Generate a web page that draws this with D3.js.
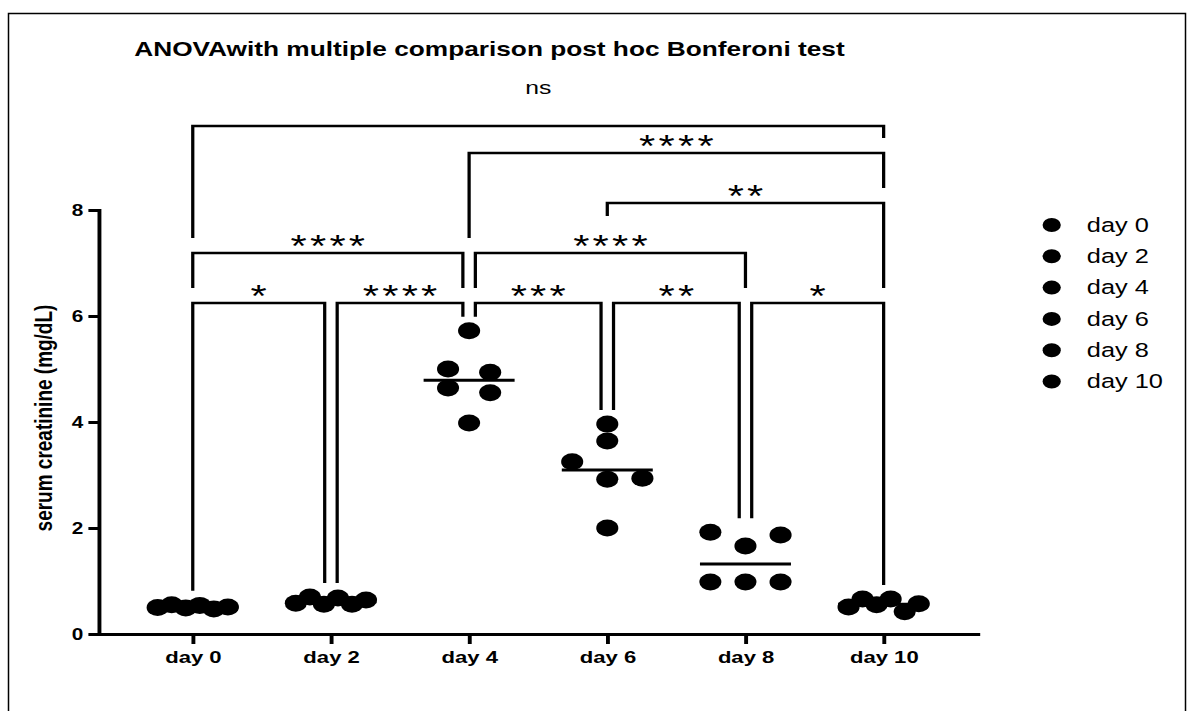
<!DOCTYPE html>
<html>
<head>
<meta charset="utf-8">
<script src="https://cdn.jsdelivr.net/npm/d3@7"></script>
<style>
  body { margin: 0; background: #fff; }
  svg { display: block; font-family: "Liberation Sans", Arial, sans-serif; }
</style>
</head>
<body>
<svg></svg>
<script>
// groups on the x axis
var days = ["day 0", "day 2", "day 4", "day 6", "day 8", "day 10"];

// serum creatinine (mg/dL), one value per animal
var day0  = [0.50, 0.55, 0.49, 0.54, 0.47, 0.51];
var day2  = [0.58, 0.70, 0.56, 0.68, 0.56, 0.64];
var day4  = [5.72, 5.00, 4.94, 4.64, 4.55, 3.98];
var day6  = [3.96, 3.64, 3.25, 2.92, 2.94, 2.00];
var day8  = [1.92, 1.66, 1.87, 0.98, 0.98, 0.98];
var day10 = [0.51, 0.66, 0.55, 0.66, 0.42, 0.57];

var yTicks = [0, 2, 4, 6, 8];

// post hoc Bonferroni comparisons: group a, group b, significance
var comparisons = [
  ["day 0", "day 2", "*"],
  ["day 2", "day 4", "****"],
  ["day 4", "day 6", "***"],
  ["day 6", "day 8", "**"],
  ["day 8", "day 10", "*"],
  ["day 0", "day 4", "****"],
  ["day 4", "day 8", "****"],
  ["day 6", "day 10", "**"],
  ["day 4", "day 10", "****"],
  ["day 0", "day 10", "ns"]
];

var series = [day0, day2, day4, day6, day8, day10];

// ---- layout ----
var width = 1189, height = 711;
var stretch = 1.3;          // the figure is drawn a bit wider than tall
var slotWidth = 10.8;       // horizontal spacing of scatter points
var swarm = [
  [-2.5, -1.5, -0.5, 0.5, 1.5, 2.5],
  [-2.5, -1.5, -0.5, 0.5, 1.5, 2.5],
  [0, -1.5, 1.5, -1.5, 1.5, 0],
  [0, 0, -2.5, 0, 2.5, 0],
  [-2.5, 0, 2.5, -2.5, 0, 2.5],
  [-2.5, -1.5, -0.5, 0.5, 1.5, 2.5]
];
var tiers = [0, 0, 0, 0, 0, 1, 1, 2, 3, 4];
var tierY = [303, 253, 203, 153, 126];
var legGap = 4.8;

var svg = d3.select("svg")
            .attr("width", width)
            .attr("height", height);

// outer frame
svg.append("rect")
   .attr("x", 8.5).attr("y", 13.5)
   .attr("width", 1177).attr("height", 720)
   .attr("fill", "none")
   .attr("stroke", "#000")
   .attr("stroke-width", 1.5);

var g = svg.append("g").attr("transform", "scale(" + stretch + ",1)");

var xScale = d3.scalePoint()
               .domain(days)
               .range([76, 752])
               .padding(0.68);

var yScale = d3.scaleLinear()
               .domain([0, 8])
               .range([634, 210]);

// title
g.append("text")
  .attr("x", 376.5)
  .attr("y", 56)
  .attr("text-anchor", "middle")
  .attr("font-size", 20.2)
  .attr("font-weight", "bold")
  .text("ANOVAwith multiple comparison post hoc Bonferoni test");

// y axis
var yAxis = g.append("g")
  .attr("transform", "translate(76,0)")
  .call(d3.axisLeft(yScale)
          .tickValues(yTicks)
          .tickSize(8)
          .tickSizeOuter(0)
          .tickPadding(4));
yAxis.select(".domain").attr("stroke-width", 3).attr("stroke-linecap", "square");
yAxis.selectAll(".tick line").attr("stroke-width", 3);
yAxis.selectAll("text")
  .attr("font-size", 16)
  .attr("font-weight", "bold")
  .attr("font-family", "Liberation Sans, Arial, sans-serif");

// y axis label
g.append("text")
  .attr("transform", "translate(40,418) rotate(-90)")
  .attr("text-anchor", "middle")
  .attr("font-size", 19)
  .attr("font-weight", "bold")
  .text("serum creatinine (mg/dL)");

// x axis
var xAxis = g.append("g")
  .attr("transform", "translate(0,634)")
  .call(d3.axisBottom(xScale)
          .tickSize(10)
          .tickSizeOuter(0)
          .tickPadding(7));
xAxis.select(".domain").attr("stroke-width", 3).attr("stroke-linecap", "square");
xAxis.selectAll(".tick line").attr("stroke-width", 3);
xAxis.selectAll("text")
  .attr("font-size", 17)
  .attr("font-weight", "bold")
  .attr("font-family", "Liberation Sans, Arial, sans-serif");

// scatter points
var points = [];
days.forEach(function(day, i) {
  series[i].forEach(function(v, j) {
    points.push({ day: day, value: v, slot: swarm[i][j] });
  });
});

g.selectAll("circle.pt")
  .data(points)
  .enter().append("circle")
    .attr("class", "pt")
    .attr("cx", d => xScale(d.day) + d.slot * slotWidth)
    .attr("cy", d => yScale(d.value))
    .attr("r", 8.5)
    .attr("fill", "#000");

// median lines
g.selectAll("line.median")
  .data(days)
  .enter().append("line")
    .attr("class", "median")
    .attr("x1", d => xScale(d) - 35)
    .attr("x2", d => xScale(d) + 35)
    .attr("y1", (d, i) => yScale(d3.median(series[i])))
    .attr("y2", (d, i) => yScale(d3.median(series[i])))
    .attr("stroke", "#000")
    .attr("stroke-width", 3);

// significance brackets
var brackets = comparisons.map(function(c, i) {
  return { a: c[0], b: c[1], label: c[2], tier: tiers[i], y: tierY[tiers[i]] };
});

brackets.forEach(function(br) {
  function shared(day) {
    return brackets.some(o => o !== br && o.tier === br.tier && (o.a === day || o.b === day));
  }
  br.x1 = xScale(br.a) + (shared(br.a) ? legGap : 0);
  br.x2 = xScale(br.b) - (shared(br.b) ? legGap : 0);
  br.cx = (br.x1 + br.x2) / 2;
  br.labelW = br.label.length * 15;
});

function legEnd(br, x, day) {
  var ends = brackets
    .filter(o => o.tier < br.tier && x >= o.x1 - 6 && x <= o.x2 + 6)
    .map(o => Math.abs(x - o.cx) < o.labelW / 2 ? o.y - 37 : o.y - 15);
  if (!ends.length) return yScale(d3.max(series[days.indexOf(day)])) - 14;
  return d3.min(ends);
}

g.selectAll("path.bracket")
  .data(brackets)
  .enter().append("path")
    .attr("class", "bracket")
    .attr("d", function(br) {
      return "M" + br.x1 + "," + legEnd(br, br.x1, br.a) +
             "V" + br.y + "H" + br.x2 +
             "V" + legEnd(br, br.x2, br.b);
    })
    .attr("fill", "none")
    .attr("stroke", "#000")
    .attr("stroke-width", 2.5);

g.selectAll("text.sig")
  .data(brackets)
  .enter().append("text")
    .attr("class", "sig")
    .attr("x", d => d.label === "ns" ? d.cx : d.cx + 1.25)
    .attr("y", d => d.label === "ns" ? d.y - 32 : d.y + 4)
    .attr("text-anchor", "middle")
    .attr("font-size", d => d.label === "ns" ? 19 : 32)
    .attr("letter-spacing", d => d.label === "ns" ? 0 : 2.5)
    .text(d => d.label);

// legend
var legend = g.selectAll("g.legend")
  .data(days)
  .enter().append("g")
    .attr("class", "legend")
    .attr("transform", (d, i) => "translate(809," + (225 + i * 31.3) + ")");

legend.append("circle")
  .attr("r", 7)
  .attr("fill", "#000");

legend.append("text")
  .attr("x", 27)
  .attr("dy", "0.35em")
  .attr("font-size", 19.5)
  .text(d => d);
</script>
</body>
</html>
